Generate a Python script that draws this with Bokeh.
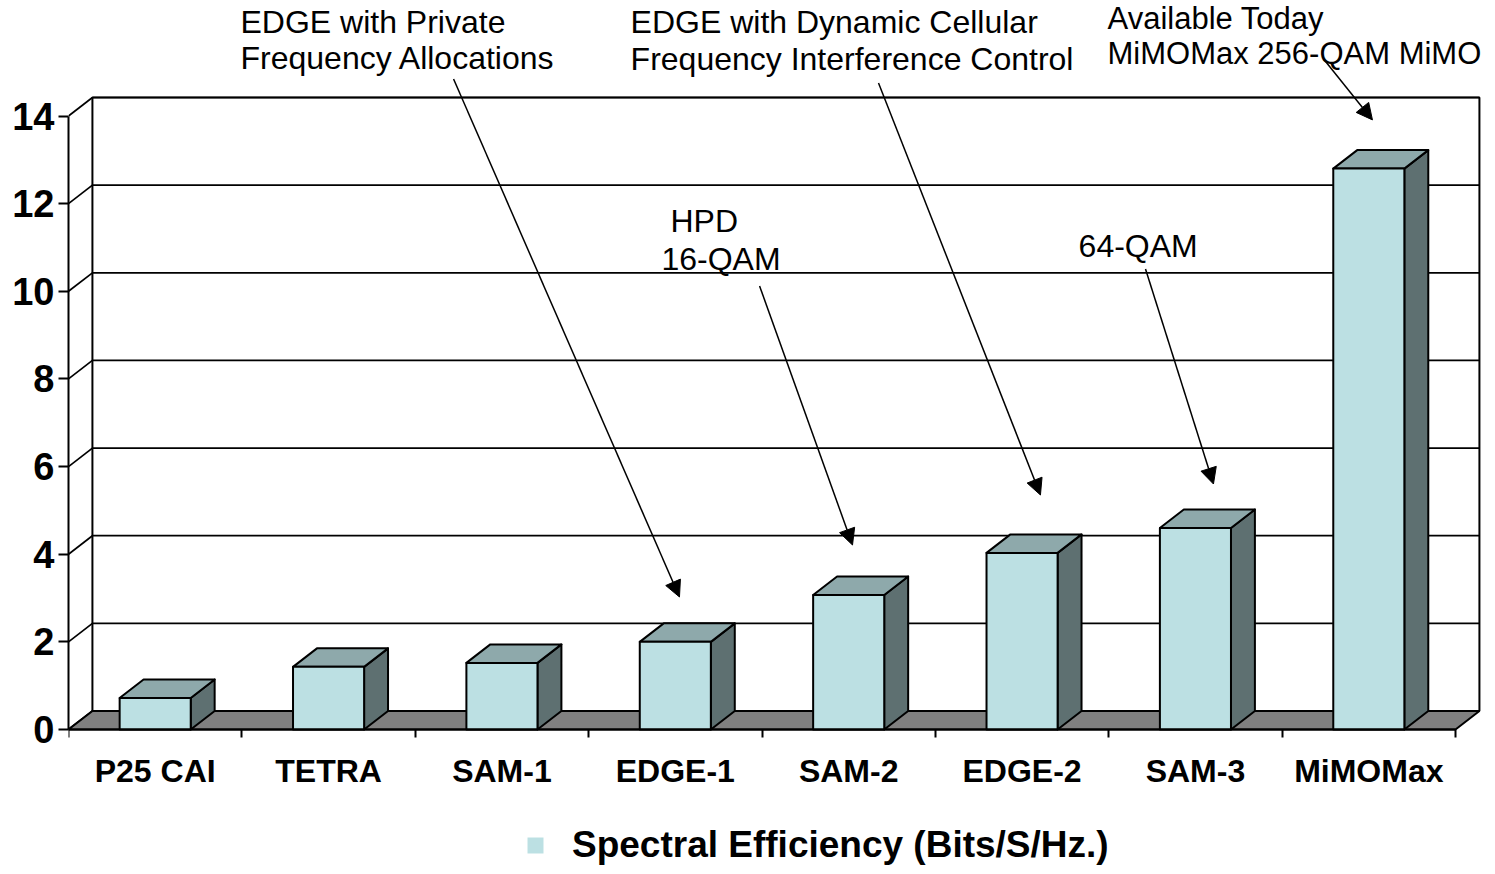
from bokeh.plotting import figure
from bokeh.models import (Range1d, FixedTicker, ColumnDataSource, Arrow, NormalHead,
                          Legend, LegendItem)
from bokeh.core.properties import value
from bokeh.embed import file_html
from bokeh.resources import INLINE

# ---------------- data ----------------
categories = ["P25 CAI", "TETRA", "SAM-1", "EDGE-1", "SAM-2", "EDGE-2", "SAM-3", "MiMOMax"]
efficiency = [0.72, 1.43, 1.52, 2.0, 3.07, 4.03, 4.6, 12.8]
y_ticks = [0, 2, 4, 6, 8, 10, 12, 14]
series_name = "Spectral Efficiency (Bits/S/Hz.)"

note_lines = ["EDGE with Private", "Frequency Allocations",
              "EDGE with Dynamic Cellular", "Frequency Interference Control",
              "HPD", "16-QAM", "64-QAM"]
note_lines_top_right = ["Available Today", "MiMOMax 256-QAM MiMO"]

# ---------------- style / layout ----------------
FONT = "Liberation Sans"
FRONT = "#BCE0E3"
TOP = "#8EA9AB"
SIDE = "#5E7071"
FLOOR = "#808080"
DX, DY = 0.138, 0.422      # 3-D depth offset in data units
BW = 0.41                  # bar width
N = len(categories)
YMAX = y_ticks[-1]
PX_X, PX_Y = 173.375, 43.821
W, H = 1487, 866
LEFT, ZERO_Y = 68, 729
TXT_SHIFT = 0.25

p = figure(width=W, height=H,
           x_range=Range1d(0, (W - LEFT) / PX_X),
           y_range=Range1d(-(H - ZERO_Y) / PX_Y, ZERO_Y / PX_Y),
           output_backend="svg", toolbar_location=None,
           min_border_left=LEFT, min_border_right=0, min_border_top=0, min_border_bottom=0)
p.xgrid.visible = False
p.ygrid.visible = False
p.outline_line_color = None
p.background_fill_color = "white"
p.border_fill_color = "white"

# back wall
p.patch([DX, N + DX, N + DX, DX], [DY, DY, YMAX + DY, YMAX + DY],
        fill_color="white", line_color="black", line_width=2)
# back-wall gridlines
p.segment(x0=[DX] * len(y_ticks), y0=[t + DY for t in y_ticks],
          x1=[N + DX] * len(y_ticks), y1=[t + DY for t in y_ticks],
          line_color="black", line_width=1.7)
# side-wall diagonals
p.segment(x0=[0] * len(y_ticks), y0=y_ticks,
          x1=[DX] * len(y_ticks), y1=[t + DY for t in y_ticks],
          line_color="black", line_width=1.7)
# floor
p.patch([0, N, N + DX, DX], [0, 0, DY, DY],
        fill_color=FLOOR, line_color="black", line_width=2)

# bars
xl = [i + 0.5 - BW / 2 for i in range(N)]
xr = [i + 0.5 + BW / 2 for i in range(N)]
p.patches(xs=[[r, r + DX, r + DX, r] for r in xr],
          ys=[[0, DY, v + DY, v] for v in efficiency],
          fill_color=SIDE, line_color="black", line_width=2, line_join="round")
p.patches(xs=[[l, r, r + DX, l + DX] for l, r in zip(xl, xr)],
          ys=[[v, v, v + DY, v + DY] for v in efficiency],
          fill_color=TOP, line_color="black", line_width=2, line_join="round")
p.quad(left=xl, right=xr, bottom=0, top=efficiency,
       fill_color=FRONT, line_color="black", line_width=2, line_join="round")

# axes
p.yaxis.bounds = (0, YMAX)
p.yaxis.ticker = FixedTicker(ticks=y_ticks)
p.yaxis.major_tick_out = 10
p.yaxis.major_tick_in = 0
p.yaxis.minor_tick_line_color = None
p.yaxis.axis_line_width = 2
p.yaxis.axis_line_color = "black"
p.yaxis.major_tick_line_width = 2
p.yaxis.major_tick_line_color = "black"
p.yaxis.major_label_text_font = FONT
p.yaxis.major_label_text_font_size = "38px"
p.yaxis.major_label_text_font_style = "bold"
p.yaxis.major_label_text_color = "black"
p.yaxis.major_label_standoff = 4

p.xaxis.fixed_location = 0
p.xaxis.bounds = (0, N)
p.xaxis.ticker = FixedTicker(ticks=[i + 0.5 for i in range(N)], minor_ticks=list(range(N + 1)))
p.xaxis.major_tick_line_color = None
p.xaxis.minor_tick_out = 8
p.xaxis.minor_tick_in = 0
p.xaxis.minor_tick_line_width = 2
p.xaxis.minor_tick_line_color = "black"
p.xaxis.axis_line_width = 2
p.xaxis.axis_line_color = "black"
p.xaxis.major_label_overrides = {i + 0.5: c for i, c in enumerate(categories)}
p.xaxis.major_label_text_font = FONT
p.xaxis.major_label_text_font_size = "32px"
p.xaxis.major_label_text_font_style = "bold"
p.xaxis.major_label_text_color = "black"
p.xaxis.major_label_standoff = 15

# legend (swatch renderer is a zero-size box)
swatch = p.quad(left=[0], right=[0], bottom=[0], top=[0], fill_color=FRONT, line_color=None)
legend = Legend(items=[LegendItem(label=series_name, renderers=[swatch])],
                location=(457, 0), orientation="horizontal",
                border_line_color=None, background_fill_alpha=0,
                label_text_font=FONT, label_text_font_size="37px",
                label_text_font_style="bold", label_text_color="black",
                glyph_width=20, glyph_height=20,
                label_standoff=27, padding=0, margin=0)
p.add_layout(legend, "center")

# annotations
note_x = [0.992, 0.992, 3.242, 3.242, 3.472, 3.420, 5.826]
note_y = [15.894, 15.073, 15.894, 15.05, 11.353, 10.486, 10.783]
p.text(x=note_x, y=[v + TXT_SHIFT for v in note_y], text=note_lines, text_font=value(FONT),
       text_font_size="32px", text_baseline="alphabetic", text_align="left",
       text_color="black")
p.text(x=[5.993, 5.993], y=[15.985 + TXT_SHIFT, 15.187 + TXT_SHIFT], text=note_lines_top_right,
       text_font=value(FONT), text_font_size="31px", text_baseline="alphabetic",
       text_align="left", text_color="black")

arr = ColumnDataSource(dict(
    x0=[2.221, 4.672, 3.986, 6.212, 7.239],
    y0=[14.844, 14.753, 10.122, 10.509, 15.301],
    x1=[3.524, 5.606, 4.522, 6.604, 7.521],
    y1=[3.024, 5.351, 4.21, 5.602, 13.911]))
p.add_layout(Arrow(end=NormalHead(size=16, fill_color="black", line_color="black"),
                   x_start="x0", y_start="y0", x_end="x1", y_end="y1",
                   source=arr, line_width=1.5, line_color="black"))

open("out.html", "w").write(file_html(p, INLINE))
